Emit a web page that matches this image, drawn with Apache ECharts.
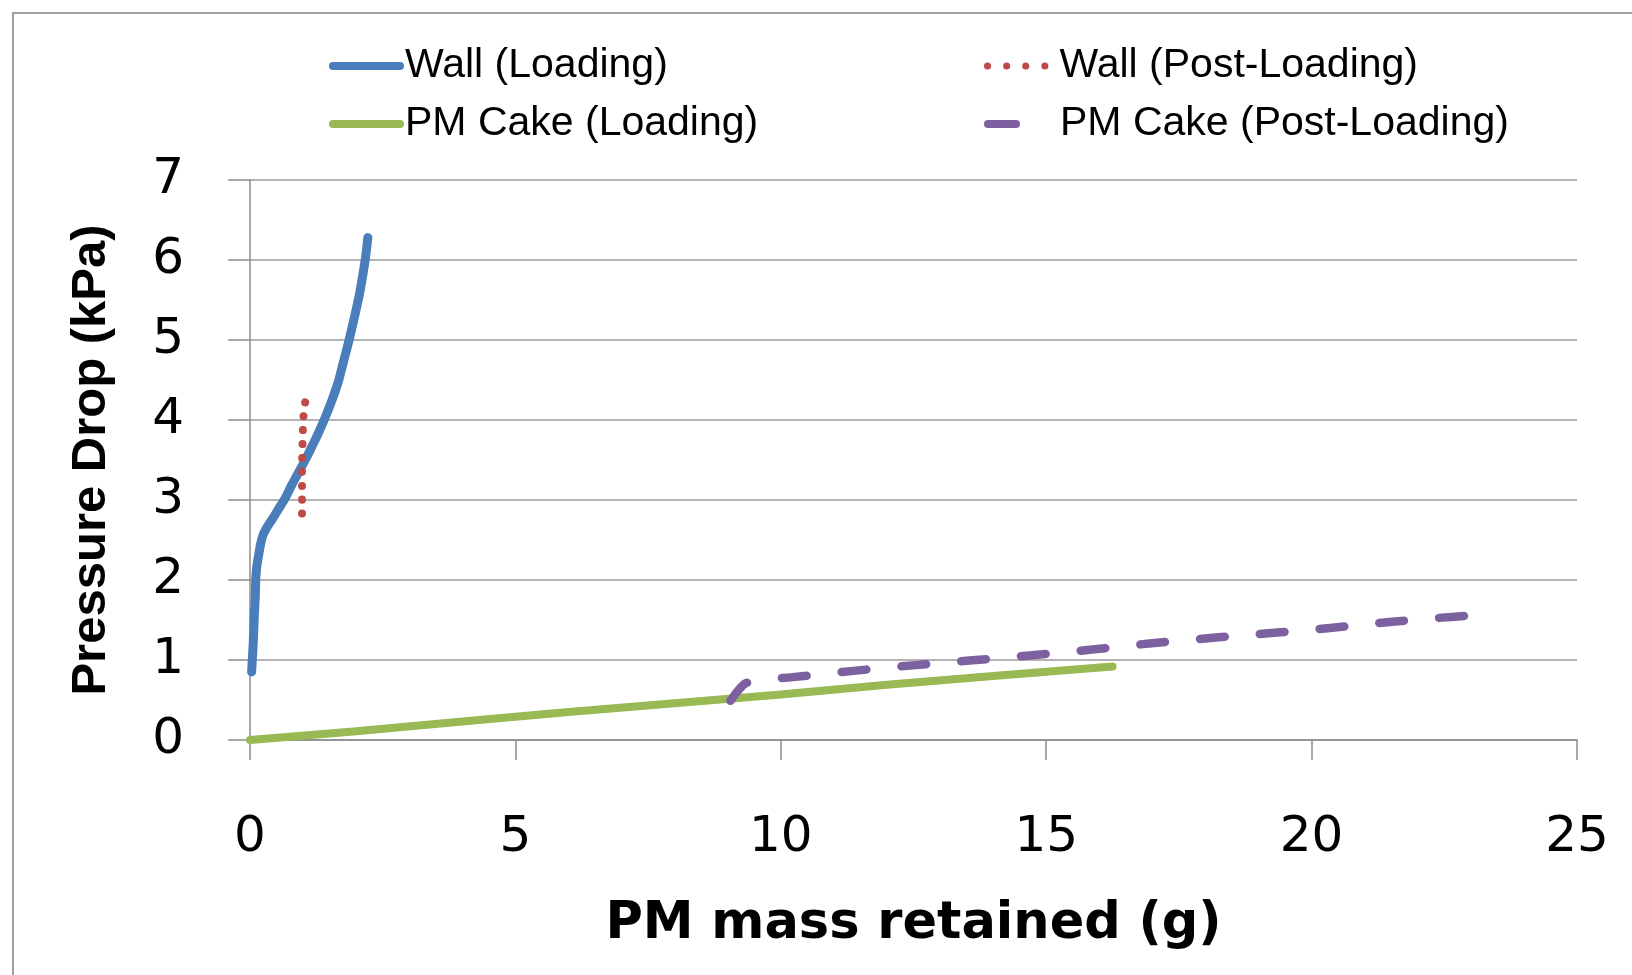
<!DOCTYPE html>
<html>
<head>
<meta charset="utf-8">
<script src="https://cdn.jsdelivr.net/npm/echarts@6/dist/echarts.min.js"></script>
<style>
html,body{margin:0;padding:0;background:#fff;}
#chart{width:1632px;height:975px;}
</style>
</head>
<body>
<div id="chart"></div>
<script>
// ---- data ----
const seriesNames = ['Wall (Loading)', 'Wall (Post-Loading)', 'PM Cake (Loading)', 'PM Cake (Post-Loading)'];
const wallLoadX = [0.03,0.06,0.08,0.10,0.11,0.13,0.16,0.20,0.25,0.33,0.41,0.53,0.66,0.78,0.91,1.04,1.16,1.29,1.41,1.54,1.66,1.75,1.84,1.92,2.00,2.07,2.13,2.17,2.19,2.22];
const wallLoadY = [0.85,1.20,1.53,1.80,2.03,2.18,2.30,2.45,2.57,2.67,2.75,2.88,3.02,3.18,3.34,3.50,3.66,3.84,4.02,4.24,4.47,4.70,4.93,5.15,5.38,5.60,5.83,6.00,6.10,6.28];
const wallPostX = [0.98,0.98,0.98,0.99,1.00,1.02,1.04];
const wallPostY = [2.83,3.10,3.40,3.70,3.95,4.15,4.22];
const cakeLoadX = [0,2,4,6,8,10,12,14,16.25];
const cakeLoadY = [0,0.11,0.23,0.35,0.46,0.57,0.69,0.80,0.92];
const cakePostX = [9.05,9.15,9.25,9.34,9.60,10.22,11.32,12.48,13.61,14.73,15.86,16.99,18.14,19.29,20.39,21.52,22.70,22.98];
const cakePostY = [0.49,0.58,0.66,0.71,0.75,0.786,0.861,0.933,0.996,1.059,1.130,1.210,1.277,1.340,1.403,1.479,1.542,1.555];
const xTicks = {min: 0, max: 25, interval: 5};
const yTicks = {min: 0, max: 7, interval: 1};
const xTitle = 'PM mass retained (g)';
const yTitle = 'Pressure Drop (kPa)';

const zip = (xs, ys) => xs.map((x, i) => [x, ys[i]]);
const colors = ['#4a7ebb', '#be4b48', '#98b954', '#7d60a0'];

const chart = echarts.init(document.getElementById('chart'), null, {renderer: 'canvas'});

function legend(name, left, top, lineStyle) {
  return {
    data: [name], left: left, top: top, padding: 0,
    itemWidth: 67, itemHeight: 14, itemGap: 0,
    lineStyle: lineStyle,
    itemStyle: {opacity: 0},
    textStyle: {fontFamily: 'Liberation Sans', fontSize: 41, color: '#000', lineHeight: 50},
    selectedMode: false
  };
}

const option = {
  animation: false,
  backgroundColor: '#fff',
  graphic: [{
    type: 'rect', shape: {x: 13, y: 13, width: 1640, height: 1000},
    style: {fill: 'none', stroke: '#a0a0a0', lineWidth: 2}, silent: true
  }],
  legend: [
    legend(seriesNames[0], 329, 41, {width: 8, cap: 'round', color: colors[0], opacity: 1}),
    legend(seriesNames[2], 329, 99, {width: 8, cap: 'round', color: colors[2], opacity: 1}),
    legend(seriesNames[1], 984, 41, {width: 7, cap: 'round', type: [0.1, 19], color: colors[1], opacity: 1}),
    legend(seriesNames[3], 984, 99, {width: 8, cap: 'round', type: [28, 60], color: colors[3], opacity: 1})
  ],
  grid: {left: 250, right: 55, top: 180, bottom: 235, containLabel: false},
  xAxis: {
    type: 'value', min: xTicks.min, max: xTicks.max, interval: xTicks.interval,
    name: xTitle, nameLocation: 'middle', nameGap: 159,
    nameTextStyle: {fontFamily: 'DejaVu Sans', fontWeight: 'bold', fontSize: 51, color: '#000'},
    axisLine: {show: true, onZero: false, lineStyle: {color: '#8c8c8c', width: 1.5}},
    axisTick: {show: true, length: 20, inside: false, lineStyle: {color: '#8c8c8c', width: 1.5}},
    axisLabel: {fontFamily: 'DejaVu Sans', fontSize: 50, color: '#000', margin: 73},
    splitLine: {show: false}
  },
  yAxis: {
    type: 'value', min: yTicks.min, max: yTicks.max, interval: yTicks.interval,
    name: yTitle, nameLocation: 'middle', nameGap: 134, nameRotate: 90,
    nameTextStyle: {fontFamily: 'Liberation Sans', fontWeight: 'bold', fontSize: 49, color: '#000'},
    axisLine: {show: true, lineStyle: {color: '#8c8c8c', width: 1.5}},
    axisTick: {show: true, length: 22, inside: false, lineStyle: {color: '#8c8c8c', width: 1.5}},
    axisLabel: {fontFamily: 'DejaVu Sans', fontSize: 50, color: '#000', margin: 66},
    splitLine: {show: true, lineStyle: {color: '#9a9a9a', width: 1.5}}
  },
  series: [
    {name: seriesNames[0], type: 'line', data: zip(wallLoadX, wallLoadY), symbol: 'none', smooth: 0.3,
     lineStyle: {color: colors[0], width: 9, cap: 'round', join: 'round'}, itemStyle: {color: colors[0]}, z: 3},
    {name: seriesNames[1], type: 'line', data: zip(wallPostX, wallPostY), symbol: 'none', smooth: 0.3,
     lineStyle: {color: colors[1], width: 8, cap: 'round', type: [0.1, 13.8]}, itemStyle: {color: colors[1]}, z: 4},
    {name: seriesNames[2], type: 'line', data: zip(cakeLoadX, cakeLoadY), symbol: 'none',
     lineStyle: {color: colors[2], width: 8, cap: 'round'}, itemStyle: {color: colors[2]}, z: 3},
    {name: seriesNames[3], type: 'line', data: zip(cakePostX, cakePostY), symbol: 'none', smooth: 0.3,
     lineStyle: {color: colors[3], width: 8.5, cap: 'round', type: [25, 35]}, itemStyle: {color: colors[3]}, z: 4}
  ]
};
chart.setOption(option);
</script>
</body>
</html>
